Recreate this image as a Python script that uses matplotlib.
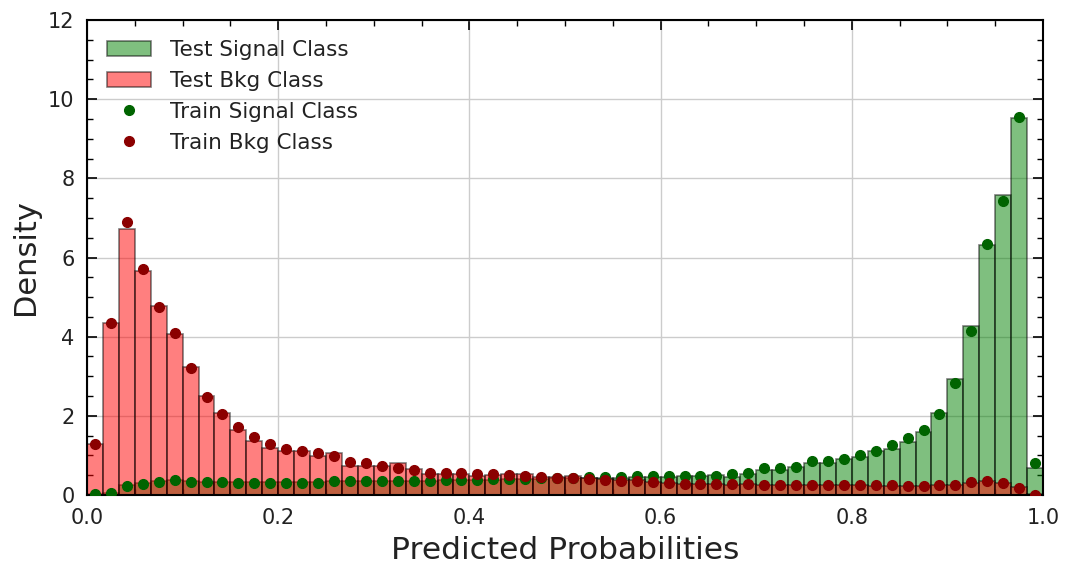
import numpy as np
import matplotlib
matplotlib.use("Agg")
import matplotlib.pyplot as plt
from matplotlib.ticker import MultipleLocator

# 60 bins from 0 to 1
bin_edges = np.linspace(0, 1, 61)

test_bkg = [1.30, 4.35, 6.72, 5.65, 4.78, 4.07, 3.23, 2.50, 2.07, 1.64,
            1.36, 1.20, 1.12, 1.10, 0.98, 1.05, 0.73, 0.73, 0.73, 0.80,
            0.65, 0.52, 0.52, 0.52, 0.48, 0.50, 0.53, 0.53, 0.46, 0.45,
            0.47, 0.44, 0.40, 0.38, 0.37, 0.34, 0.30, 0.28, 0.27, 0.27,
            0.26, 0.27, 0.26, 0.26, 0.26, 0.25, 0.25, 0.25, 0.25, 0.24,
            0.24, 0.24, 0.24, 0.25, 0.26, 0.30, 0.36, 0.30, 0.20, 0.02]
train_bkg = [1.30, 4.35, 6.90, 5.70, 4.75, 4.10, 3.20, 2.48, 2.05, 1.72,
             1.47, 1.30, 1.15, 1.10, 1.06, 0.98, 0.84, 0.80, 0.74, 0.68,
             0.63, 0.56, 0.55, 0.55, 0.53, 0.52, 0.50, 0.48, 0.45, 0.43,
             0.43, 0.40, 0.38, 0.36, 0.35, 0.33, 0.30, 0.29, 0.28, 0.27,
             0.27, 0.27, 0.26, 0.26, 0.26, 0.26, 0.25, 0.26, 0.25, 0.25,
             0.25, 0.24, 0.24, 0.25, 0.25, 0.33, 0.36, 0.30, 0.18, 0.00]
test_sig = [0.02, 0.05, 0.25, 0.30, 0.35, 0.37, 0.35, 0.34, 0.34, 0.32,
            0.32, 0.32, 0.33, 0.33, 0.32, 0.35, 0.35, 0.35, 0.35, 0.36,
            0.36, 0.36, 0.37, 0.37, 0.38, 0.39, 0.40, 0.40, 0.41, 0.42,
            0.43, 0.43, 0.44, 0.44, 0.45, 0.45, 0.46, 0.47, 0.47, 0.50,
            0.45, 0.52, 0.62, 0.64, 0.70, 0.82, 0.82, 0.90, 0.95, 1.10,
            1.16, 1.33, 1.60, 2.07, 2.93, 4.27, 6.32, 7.58, 9.53, 0.69]
train_sig = [0.02, 0.06, 0.22, 0.27, 0.34, 0.38, 0.34, 0.34, 0.34, 0.30,
             0.30, 0.30, 0.31, 0.31, 0.30, 0.35, 0.35, 0.35, 0.35, 0.35,
             0.36, 0.36, 0.37, 0.37, 0.38, 0.40, 0.40, 0.41, 0.42, 0.43,
             0.44, 0.45, 0.46, 0.46, 0.47, 0.47, 0.48, 0.48, 0.48, 0.48,
             0.53, 0.56, 0.67, 0.67, 0.70, 0.86, 0.86, 0.90, 1.00, 1.11,
             1.26, 1.43, 1.64, 2.04, 2.84, 4.15, 6.34, 7.44, 9.55, 0.82]

x_ticks = [0.0, 0.2, 0.4, 0.6, 0.8, 1.0]
y_ticks = [0, 2, 4, 6, 8, 10, 12]

fig = plt.figure(figsize=(10.66, 5.63), dpi=100)
ax = fig.add_axes([87/1066, 1 - 495/563, (1043-87)/1066, (495-20)/563])

left = bin_edges[:-1]
width = np.diff(bin_edges)
centers = 0.5 * (bin_edges[:-1] + bin_edges[1:])

h1 = ax.bar(left, test_sig, width=width, align='edge', color='green', alpha=0.5,
            edgecolor='black', linewidth=1.2, label='Test Signal Class', zorder=2)
h2 = ax.bar(left, test_bkg, width=width, align='edge', color='red', alpha=0.5,
            edgecolor='black', linewidth=1.2, label='Test Bkg Class', zorder=2)
h3, = ax.plot(centers, train_sig, 'o', color='darkgreen', markersize=7,
              label='Train Signal Class', zorder=3)
h4, = ax.plot(centers, train_bkg, 'o', color='darkred', markersize=7,
              label='Train Bkg Class', zorder=3)

ax.set_xlim(0, 1)
ax.set_ylim(0, 12)
ax.set_xticks(x_ticks)
ax.set_yticks(y_ticks)
ax.xaxis.set_minor_locator(MultipleLocator(0.05))
ax.yaxis.set_minor_locator(MultipleLocator(0.5))
ax.tick_params(which='both', direction='in', top=True, right=True,
               labelsize=15, labelcolor='#222222')
ax.tick_params(which='major', length=7, width=1.2, pad=9)
ax.tick_params(which='minor', length=4, width=1)
ax.grid(True, which='major', color='#cccccc', linewidth=1, zorder=0)
ax.set_axisbelow(True)
for s in ax.spines.values():
    s.set_linewidth(1.5)
    s.set_color('black')

ax.set_xlabel('Predicted Probabilities', fontsize=22.5, color='#222222', labelpad=6)
ax.set_ylabel('Density', fontsize=22, color='#222222', labelpad=6)

ax.legend(handles=[h1, h2, h3, h4], loc='upper left', frameon=False,
          fontsize=15.5, labelcolor='#222222', borderaxespad=0.55,
          labelspacing=0.5, handletextpad=0.9)

fig.savefig('out.png', dpi=100)
